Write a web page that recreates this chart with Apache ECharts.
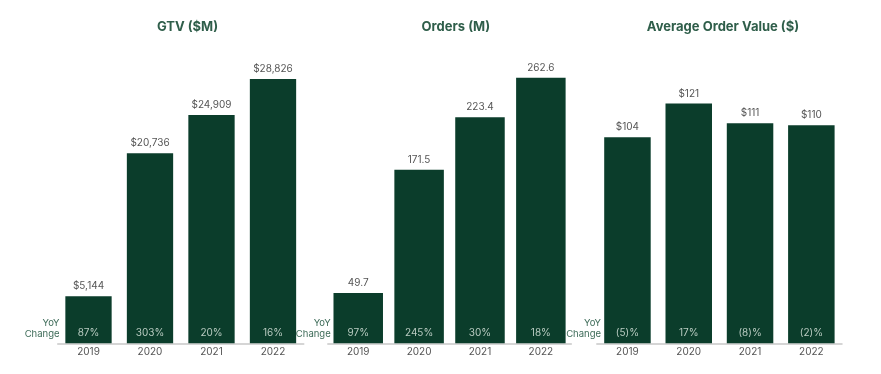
<!DOCTYPE html>
<html>
<head>
<meta charset="utf-8">
<script src="https://cdn.jsdelivr.net/npm/echarts@6/dist/echarts.min.js"></script>
<style>
html,body{margin:0;padding:0;background:#fff;}
#chart{width:881px;height:374px;}
</style>
</head>
<body>
<div id="chart"></div>
<script>
const years = ['2019', '2020', '2021', '2022'];
const gtvValues = [5144, 20736, 24909, 28826];
const gtvYoY = ['87%', '303%', '20%', '16%'];
const ordersValues = [49.7, 171.5, 223.4, 262.6];
const ordersYoY = ['97%', '245%', '30%', '18%'];
const aovValues = [104, 121, 111, 110];
const aovYoY = ['(5)%', '17%', '(8)%', '(2)%'];
const panelTitles = ['GTV ($M)', 'Orders (M)', 'Average Order Value ($)'];

const BAR = '#0b3d2b';
const TITLE = '#2f5e4a';
const FONT = 'Inter, "Noto Sans", sans-serif';

const panels = [
  { values: gtvValues, yoy: gtvYoY, fmt: v => '$' + v.toLocaleString('en-US'), max: 32000,
    left: 57.75, width: 246, barWidth: 46.3, titleX: 182.5, yoyX: 59.5 },
  { values: ordersValues, yoy: ordersYoY, fmt: v => v.toFixed(1), max: 290,
    left: 327.8, width: 243.5, barWidth: 49.5, titleX: 450.8, yoyX: 330.7 },
  { values: aovValues, yoy: aovYoY, fmt: v => '$' + v, max: 148,
    left: 596.8, width: 245.2, barWidth: 46.5, titleX: 718, yoyX: 601 }
];

const chart = echarts.init(document.getElementById('chart'), null, { renderer: 'canvas' });

const option = {
  backgroundColor: '#fff',
  animation: false,
  title: panels.map((p, i) => ({
    text: panelTitles[i],
    left: p.titleX,
    top: 16,
    textAlign: 'center',
    textStyle: { color: TITLE, fontSize: 13, fontWeight: 'bold', fontFamily: FONT }
  })),
  grid: panels.map(p => ({ left: p.left, width: p.width, top: 50, height: 293.3 })),
  xAxis: panels.map((p, i) => ({
    type: 'category',
    gridIndex: i,
    data: years,
    axisLine: { lineStyle: { color: '#c8c8c8', width: 1.5 } },
    axisTick: { show: false },
    axisLabel: { color: '#555', fontSize: 10, margin: 4, fontFamily: FONT }
  })),
  yAxis: panels.map((p, i) => ({
    type: 'value',
    gridIndex: i,
    min: 0,
    max: p.max,
    show: false,
    splitLine: { show: false }
  })),
  series: panels.flatMap((p, i) => [
    {
      type: 'bar',
      xAxisIndex: i,
      yAxisIndex: i,
      data: p.values,
      barWidth: p.barWidth,
      itemStyle: { color: BAR },
      label: {
        show: true,
        position: 'top',
        distance: 5,
        color: '#555',
        fontSize: 10,
        fontFamily: FONT,
        formatter: d => p.fmt(d.value)
      }
    },
    {
      type: 'bar',
      xAxisIndex: i,
      yAxisIndex: i,
      data: p.values,
      barWidth: p.barWidth,
      barGap: '-100%',
      itemStyle: { color: 'rgba(0,0,0,0)' },
      silent: true,
      label: {
        show: true,
        position: 'insideBottom',
        distance: 5,
        color: '#b9cbc1',
        fontSize: 10,
        fontFamily: FONT,
        formatter: d => p.yoy[d.dataIndex]
      }
    }
  ]),
  graphic: panels.map(p => ({
    type: 'text',
    style: {
      x: p.yoyX,
      y: 318,
      text: 'YoY\nChange',
      align: 'right',
      verticalAlign: 'top',
      lineHeight: 11,
      fill: '#3d6b58',
      fontSize: 9.5,
      fontFamily: FONT
    }
  }))
};

chart.setOption(option);
</script>
</body>
</html>
